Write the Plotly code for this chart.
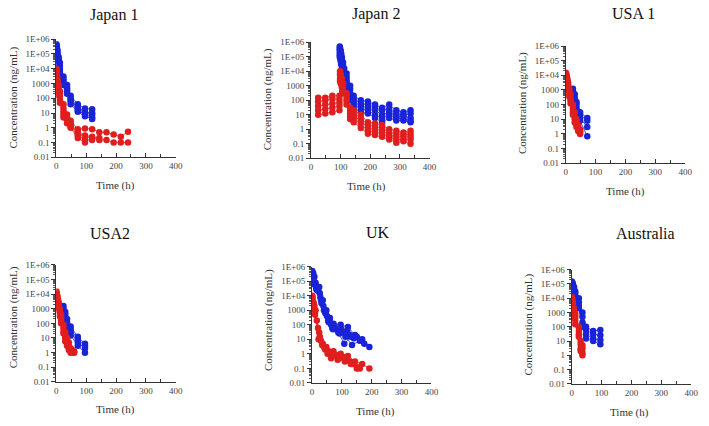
import plotly.graph_objects as go

W, H = 709, 426
BLUE = "rgb(25,35,215)"
RED = "rgb(225,30,30)"

titles = ["Japan 1", "Japan 2", "USA 1", "USA2", "UK", "Australia"]
ytick_vals = [0.01, 0.1, 1, 10, 100, 1000, 1e4, 1e5, 1e6]
ytick_text = ["0.01", "0.1", "1", "10", "100", "1000", "1E+04", "1E+05", "1E+06"]
xtick_vals = [0, 100, 200, 300, 400]
x_title = "Time (h)"
y_title = "Concentration (ng/mL)"

# ---------------- Japan 1 ----------------
j1_blue_t = [0.5, 1, 2, 4, 8, 12, 24, 36, 48, 72, 96, 120]
j1_blue = [
    [450000, 380000, 300000, 180000, 60000, 25000, 3000, 800, 150, 40, 20, 18],
    [350000, 300000, 220000, 120000, 40000, 15000, 2000, 500, 100, 25, 12, 10],
    [250000, 200000, 150000, 90000, 30000, 10000, 1500, 400, 80, 20, 10, 8],
    [150000, 120000, 90000, 60000, 20000, 7000, 1000, 300, 60, 15, 8, 5],
    [100000, 80000, 60000, 40000, 12000, 5000, 800, 200, 40, 12, 6, 4],
]
j1_red_t = [0.5, 1, 2, 4, 8, 12, 24, 36, 48, 72, 96, 120, 144, 168, 192, 216, 240]
j1_red = [
    [10000, 8000, 5000, 2000, 800, 300, 40, 8, 3, 0.8, 0.9, 0.8, 0.5, 0.5, 0.35, 0.25, 0.55],
    [8000, 6000, 4000, 1500, 500, 200, 20, 5, 2, 0.5, 0.3, 0.25, 0.15, 0.15, 0.1, 0.1, 0.1],
    [6000, 5000, 3000, 1000, 300, 120, 12, 4, 1.5, 0.4, 0.25, 0.2, 0.2],
    [4000, 3000, 2000, 600, 200, 80, 8, 3, 1.2, 0.3, 0.15, 0.15],
    [2500, 2000, 1200, 400, 150, 50, 5, 2, 1, 0.2, 0.1],
]

# ---------------- Japan 2 ----------------
j2_blue_t = [97, 98, 100, 102, 104, 108, 112, 120, 132, 144, 168, 192, 216, 240, 264, 288, 312, 336]
j2_blue = [
    [500000, 400000, 250000, 150000, 90000, 40000, 15000, 7000, 1000, 200, 100, 80, 50, 30, 50, 20, 15, 20],
    [350000, 300000, 180000, 100000, 60000, 25000, 9000, 4000, 600, 120, 60, 50, 30, 20, 25, 12, 10, 12],
    [250000, 200000, 120000, 70000, 40000, 15000, 6000, 2500, 300, 80, 40, 30, 20, 10, 15, 8, 8, 6],
    [150000, 120000, 80000, 50000, 25000, 10000, 4000, 1500, 150, 50, 25, 20, 10, 6, 10, 6, 5, 4],
    [100000, 80000, 50000, 30000, 15000, 6000, 2500, 800, 100, 30, 15, 12, 6, 3, 6, 4, 4, 3],
]
j2_red_t = [24, 48, 72, 96, 98, 100, 104, 108, 120, 132, 144, 168, 192, 216, 240, 264, 288, 312, 336]
j2_red = [
    [150, 150, 200, 200, 10000, 6000, 3000, 1500, 300, 30, 20, 10, 3, 2.5, 2, 1, 0.8, 0.6, 0.8],
    [80, 100, 120, 120, 7000, 4000, 2000, 1000, 200, 20, 12, 6, 2, 1.5, 1.2, 0.6, 0.5, 0.4, 0.5],
    [40, 50, 60, 70, 5000, 3000, 1500, 700, 120, 12, 8, 4, 1.2, 1, 0.8, 0.4, 0.3, 0.3, 0.3],
    [20, 25, 30, 40, 3000, 2000, 1000, 500, 80, 8, 5, 2.5, 0.8, 0.6, 0.5, 0.3, 0.2, 0.2, 0.2],
    [10, 12, 15, 20, 2000, 1500, 800, 300, 50, 5, 3, 1.2, 0.5, 0.4, 0.3, 0.2, 0.12, 0.15, 0.1],
]

# ---------------- USA 1 ----------------
u1_blue_t = [24, 30, 36, 48, 72]
u1_blue = [
    [1200, 500, 150, 30, 12],
    [800, 300, 100, 20, 8],
    [500, 200, 60, 12, 3],
    [300, 120, 40, 8, 0.7],
]
u1_red_t = [0.5, 2, 4, 6, 8, 12, 16, 24, 30, 36, 42, 48]
u1_red = [
    [15000, 12000, 8000, 5000, 3000, 1200, 500, 100, 30, 10, 4, 2],
    [12000, 9000, 6000, 3500, 2000, 800, 300, 50, 15, 6, 2.5, 1.5],
    [10000, 7000, 4500, 2500, 1500, 500, 200, 30, 10, 4, 2, 1.2],
    [8000, 6000, 3500, 2000, 1000, 350, 120, 20, 6, 3, 1.5, 1],
]

# ---------------- USA2 ----------------
u2_blue_t = [24, 30, 36, 48, 72, 96]
u2_blue = [
    [1500, 600, 200, 60, 12, 4],
    [1000, 400, 120, 40, 8, 3],
    [700, 250, 80, 25, 5, 2],
    [400, 150, 50, 15, 3, 1],
]
u2_red_t = [0.5, 2, 4, 6, 8, 12, 16, 24, 30, 36, 42, 48, 54, 60]
u2_red = [
    [15000, 10000, 7000, 4000, 2500, 1000, 400, 80, 25, 10, 5, 2, 1.5, 1.2],
    [12000, 8000, 5000, 3000, 1800, 700, 250, 50, 15, 6, 3, 1.5, 1.2, 1],
    [9000, 6000, 4000, 2200, 1200, 450, 150, 30, 10, 4, 2, 1.2, 1],
    [6000, 4500, 2800, 1500, 800, 300, 100, 20, 6, 3, 1.5, 1],
]

# ---------------- UK ----------------
uk_blue_t = [
    [1, 4, 8, 24, 36, 48, 60, 72, 96, 120, 144, 168, 192],
    [2, 6, 12, 22, 32, 46, 58, 75, 98, 118, 150, 175],
    [1, 5, 10, 26, 38, 50, 64, 80, 104, 126, 140],
    [3, 8, 14, 28, 40, 54, 68, 88, 108, 130],
    [0.5, 6, 16, 30, 44, 56, 70, 92, 112, 134, 160],
]
uk_blue = [
    [500000, 350000, 200000, 40000, 5000, 1000, 300, 120, 100, 70, 20, 10, 3],
    [300000, 200000, 80000, 20000, 3000, 600, 200, 80, 50, 40, 15, 5],
    [200000, 120000, 60000, 15000, 2000, 400, 100, 50, 30, 20, 12],
    [100000, 60000, 30000, 8000, 1000, 200, 60, 30, 5, 15],
    [150000, 90000, 25000, 5000, 700, 150, 50, 25, 15, 4, 8],
]
uk_red_t = [
    [1, 6, 12, 24, 36, 48, 72, 96, 120, 144, 168, 192],
    [2, 8, 16, 26, 40, 56, 80, 104, 128, 152],
    [0.5, 4, 10, 22, 34, 52, 68, 90, 112, 136, 160],
    [3, 9, 20, 30, 44, 64, 86, 110, 130, 150],
]
uk_red = [
    [10000, 3000, 1000, 30, 5, 3, 1.5, 1, 0.7, 0.3, 0.2, 0.1],
    [8000, 2000, 200, 15, 3, 1.5, 0.8, 0.6, 0.3, 0.12],
    [6000, 2500, 500, 10, 4, 1, 0.7, 0.5, 0.4, 0.2, 0.1],
    [4000, 1000, 60, 8, 2, 0.5, 0.4, 0.3, 0.2, 0.1],
]

# ---------------- Australia ----------------
au_blue_t = [0.5, 2, 4, 8, 12, 24, 36, 48, 72, 96]
au_blue = [
    [150000, 130000, 100000, 60000, 30000, 10000, 1000, 100, 50, 60],
    [120000, 100000, 80000, 40000, 20000, 5000, 500, 60, 30, 25],
    [90000, 80000, 60000, 30000, 12000, 3000, 200, 30, 15, 12],
    [70000, 60000, 40000, 20000, 8000, 2000, 100, 15, 10, 6],
]
au_red_t = [0.5, 2, 4, 8, 12, 24, 30, 36]
au_red = [
    [12000, 9000, 5000, 2000, 800, 100, 10, 5],
    [10000, 7000, 3500, 1200, 500, 50, 6, 3],
    [8000, 5000, 2500, 800, 300, 30, 3, 1.5],
    [6000, 4000, 1800, 500, 150, 20, 2, 1],
]


def expand(times, profiles):
    """Return list of (t, v) per profile; times may be shared or per-profile."""
    out = []
    for i, vals in enumerate(profiles):
        t = times[i] if isinstance(times[0], list) else times
        out.append((t[:len(vals)], vals))
    return out


panel_data = [
    (expand(j1_blue_t, j1_blue), expand(j1_red_t, j1_red)),
    (expand(j2_blue_t, j2_blue), expand(j2_red_t, j2_red)),
    (expand(u1_blue_t, u1_blue), expand(u1_red_t, u1_red)),
    (expand(u2_blue_t, u2_blue), expand(u2_red_t, u2_red)),
    (expand(uk_blue_t, uk_blue), expand(uk_red_t, uk_red)),
    (expand(au_blue_t, au_blue), expand(au_red_t, au_red)),
]

# layout geometry in pixels: plot box (x0, x1, y0, y1), title centre, x-title centre, y-title centre
geom = [
    ((55, 176, 35, 156), (113, 10), (115, 185), (12, 95)),
    ((313, 433, 38, 157), (379, 9), (369, 186), (269, 97)),
    ((571, 692, 42, 162), (640, 9), (632, 191), (527, 100)),
    ((55, 176, 266, 386), (109, 234), (115, 414), (12, 320)),
    ((314, 435, 268, 387), (381, 233), (378, 416), (270, 323)),
    ((577, 698, 271, 388), (652, 234), (636, 417), (533, 327)),
]

FONT = "'Liberation Serif', 'Times New Roman', serif"
fig = go.Figure()
layout = dict(
    width=W, height=H, margin=dict(l=0, r=0, t=0, b=0),
    paper_bgcolor="white", plot_bgcolor="white", showlegend=False,
    font=dict(family=FONT, color="#222"),
)
annotations = []

minor_y = [m * 10.0 ** e for e in range(-2, 6) for m in range(2, 10)]

for i, ((blues, reds), (box, tpos, xtpos, ytpos)) in enumerate(zip(panel_data, geom)):
    k = "" if i == 0 else str(i + 1)
    xa, ya = "x" + k, "y" + k
    for color, profiles in ((BLUE, blues), (RED, reds)):
        for t, v in profiles:
            fig.add_trace(go.Scatter(
                x=t, y=v, xaxis=xa, yaxis=ya, mode="lines+markers",
                line=dict(color=color, width=0.8),
                marker=dict(color=color, size=6.5, line=dict(width=0)),
                hoverinfo="skip",
            ))
    x0, x1, y0, y1 = box
    layout["xaxis" + k] = dict(
        domain=[x0 / W, x1 / W], anchor=ya, range=[0, 400],
        tickvals=xtick_vals, ticks="inside", ticklen=4, tickcolor="#333",
        showline=True, linecolor="#333", linewidth=1, showgrid=False, zeroline=False,
        tickfont=dict(family=FONT, size=9, color="#444"),
        minor=dict(tickvals=[50, 150, 250, 350], ticks="inside", ticklen=3, tickcolor="#333"),
    )
    layout["yaxis" + k] = dict(
        domain=[1 - y1 / H, 1 - y0 / H], anchor=xa, type="log", range=[-2, 6],
        tickvals=ytick_vals, ticktext=ytick_text, ticks="outside", ticklen=4, tickcolor="#333",
        showline=True, linecolor="#333", linewidth=1, showgrid=False, zeroline=False,
        tickfont=dict(family=FONT, size=9, color="#444"),
        minor=dict(tickvals=minor_y, ticks="outside", ticklen=2, tickcolor="#555"),
    )
    annotations.append(dict(text=titles[i], x=tpos[0] / W, y=1 - tpos[1] / H, xref="paper", yref="paper",
                            showarrow=False, xanchor="center", yanchor="middle",
                            font=dict(family=FONT, size=16, color="#111")))
    annotations.append(dict(text=x_title, x=xtpos[0] / W, y=1 - xtpos[1] / H, xref="paper", yref="paper",
                            showarrow=False, xanchor="center", yanchor="middle",
                            font=dict(family=FONT, size=11, color="#333")))
    annotations.append(dict(text=y_title, x=ytpos[0] / W, y=1 - ytpos[1] / H, xref="paper", yref="paper",
                            showarrow=False, xanchor="center", yanchor="middle", textangle=-90,
                            font=dict(family=FONT, size=11, color="#333")))

layout["annotations"] = annotations
fig.update_layout(**layout)
fig.write_html("out.html")
